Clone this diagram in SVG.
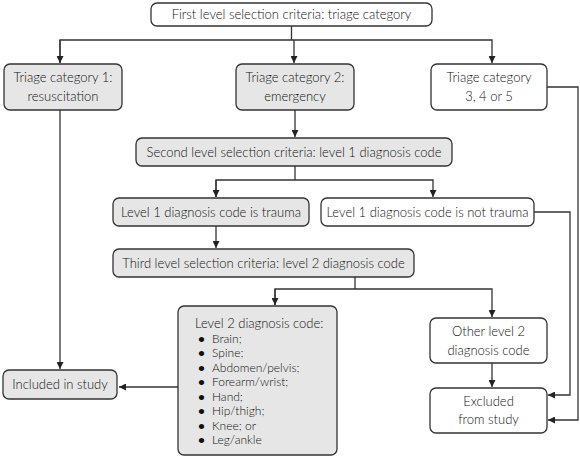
<svg xmlns="http://www.w3.org/2000/svg" width="580" height="464" viewBox="0 0 580 464">
<defs>
<marker id="ah" viewBox="0 0 10 10" refX="10" refY="5" markerWidth="7" markerHeight="7" markerUnits="userSpaceOnUse" orient="auto"><path d="M0,0 L10,5 L0,10 z" fill="#222"/></marker>
<style>
.b{stroke:#333;stroke-width:1.3;fill:#fff}
.g{fill:#e6e6e6}
.t{font-family:Lato,"Open Sans",sans-serif;font-size:13px;fill:#111;font-weight:300}
.s{font-size:12px}
.d{font-weight:700}
.c{text-anchor:middle}
.l{fill:none;stroke:#333;stroke-width:1.3}
</style>
</defs>
<g id="n-top"><rect class="b" x="151" y="3" width="281" height="23" rx="6"/><text class="t c" x="291.5" y="19">First level selection criteria: triage category</text></g>
<g id="n-t1"><rect class="b g" x="4" y="64" width="118" height="46" rx="6"/><text class="t c" x="63" y="82">Triage category 1:</text><text class="t c" x="63" y="101">resuscitation</text></g>
<g id="n-t2"><rect class="b g" x="236" y="64" width="118" height="46" rx="6"/><text class="t c" x="295" y="82">Triage category 2:</text><text class="t c" x="295" y="101">emergency</text></g>
<g id="n-t3"><rect class="b" x="431" y="64" width="116" height="46" rx="6"/><text class="t c" x="489" y="82">Triage category</text><text class="t c" x="489" y="101">3, 4 or 5</text></g>
<g id="n-second"><rect class="b g" x="136" y="138" width="316" height="28" rx="6"/><text class="t c" x="294" y="156.5">Second level selection criteria: level 1 diagnosis code</text></g>
<g id="n-trauma"><rect class="b g" x="113" y="198" width="196" height="28" rx="6"/><text class="t c" x="211" y="216.5">Level 1 diagnosis code is trauma</text></g>
<g id="n-nottrauma"><rect class="b" x="321" y="198" width="213" height="28" rx="6"/><text class="t c" x="427.5" y="216.5">Level 1 diagnosis code is not trauma</text></g>
<g id="n-third"><rect class="b g" x="113" y="249" width="301" height="28" rx="6"/><text class="t c" x="263.5" y="267.5">Third level selection criteria: level 2 diagnosis code</text></g>
<g id="n-level2"><rect class="b g" x="178" y="306" width="159" height="149" rx="6"/>
<text class="t" x="195" y="328">Level 2 diagnosis code:</text>
<g class="t s"><text class="d" x="198" y="342.5">•</text><text x="212" y="342.5">Brain;</text>
<text class="d" x="198" y="357">•</text><text x="212" y="357">Spine;</text>
<text class="d" x="198" y="371.5">•</text><text x="212" y="371.5">Abdomen/pelvis;</text>
<text class="d" x="198" y="386">•</text><text x="212" y="386">Forearm/wrist;</text>
<text class="d" x="198" y="400.5">•</text><text x="212" y="400.5">Hand;</text>
<text class="d" x="198" y="415">•</text><text x="212" y="415">Hip/thigh;</text>
<text class="d" x="198" y="429.5">•</text><text x="212" y="429.5">Knee; or</text>
<text class="d" x="198" y="444">•</text><text x="212" y="444">Leg/ankle</text></g></g>
<g id="n-other"><rect class="b" x="430" y="318" width="117" height="45" rx="6"/><text class="t c" x="488.5" y="336">Other level 2</text><text class="t c" x="488.5" y="355">diagnosis code</text></g>
<g id="n-excluded"><rect class="b" x="430" y="388" width="117" height="45" rx="6"/><text class="t c" x="488.5" y="406">Excluded</text><text class="t c" x="488.5" y="424">from study</text></g>
<g id="n-included"><rect class="b g" x="3" y="370" width="114" height="29" rx="6"/><text class="t c" x="60" y="389">Included in study</text></g>
<g id="connectors">
<path class="l" d="M291.5,26 V40"/>
<path class="l" d="M60,63 V40 H492 V63" marker-end="url(#ah)"/>
<path class="l" d="M60,40 V63" marker-end="url(#ah)"/>
<path class="l" d="M294,40 V63" marker-end="url(#ah)"/>
<path class="l" d="M295,110 V137" marker-end="url(#ah)"/>
<path class="l" d="M295,166 V180"/>
<path class="l" d="M216,197 V180 H433 V197" marker-end="url(#ah)"/>
<path class="l" d="M216,180 V197" marker-end="url(#ah)"/>
<path class="l" d="M216,226 V248" marker-end="url(#ah)"/>
<path class="l" d="M355,277 V289"/>
<path class="l" d="M275,305 V289 H492 V317" marker-end="url(#ah)"/>
<path class="l" d="M275,289 V305" marker-end="url(#ah)"/>
<path class="l" d="M492,363 V387" marker-end="url(#ah)"/>
<path class="l" d="M60,110 V369" marker-end="url(#ah)"/>
<path class="l" d="M178,387 H119" marker-end="url(#ah)"/>
<path class="l" d="M547,87 H578 V420 H548" marker-end="url(#ah)"/>
<path class="l" d="M534,212 H570 V395 H548" marker-end="url(#ah)"/>
</g>
</svg>
